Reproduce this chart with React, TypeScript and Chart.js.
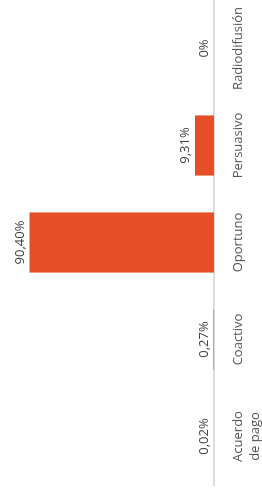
import React, { useEffect, useRef } from "react";
import { Chart, registerables } from "chart.js";
Chart.register(...registerables);

const categories: (string | string[])[] = [["Acuerdo", "de pago"], "Coactivo", "Oportuno", "Persuasivo", "Radiodifusión"];
const values = [0.02, 0.27, 90.4, 9.31, 0];
const valueLabels = ["0,02%", "0,27%", "90,40%", "9,31%", "0%"];

const FONT = "'Open Sans', 'Noto Sans', sans-serif";

const valueLabelPlugin = {
  id: "valueLabels",
  afterDatasetsDraw(chart: any) {
    const ctx = chart.ctx;
    const meta = chart.getDatasetMeta(0);
    ctx.save();
    ctx.font = `13px ${FONT}`;
    ctx.fillStyle = "#444444";
    ctx.textAlign = "center";
    ctx.textBaseline = "bottom";
    meta.data.forEach((el: any, i: number) => {
      ctx.fillText(valueLabels[i], el.x, el.y - 3);
    });
    ctx.restore();
  },
};

export default function App() {
  const ref = useRef<HTMLCanvasElement>(null);
  useEffect(() => {
    if (!ref.current) return;
    const chart = new Chart(ref.current, {
      type: "bar",
      data: {
        labels: categories,
        datasets: [
          {
            data: values,
            backgroundColor: "#E64E27",
            borderWidth: 0,
            barPercentage: 0.62,
            categoryPercentage: 1,
          },
        ],
      },
      options: {
        responsive: false,
        animation: false,
        devicePixelRatio: 1,
        layout: { padding: { left: 8, right: 0, top: 10, bottom: 0 } },
        plugins: { legend: { display: false }, tooltip: { enabled: false } },
        scales: {
          x: {
            grid: { display: false, drawTicks: false },
            border: { display: true, color: "#dddddd", width: 2 },
            ticks: {
              color: "#555555",
              font: { size: 13, family: FONT, lineHeight: 1.3 },
              padding: 16,
              maxRotation: 0,
              autoSkip: false,
            },
            afterFit(scale: any) {
              scale.height = 48;
              scale.paddingLeft = 0;
              scale.paddingRight = 0;
            },
          },
          y: { display: false, min: 0, max: 100 },
        },
      },
      plugins: [valueLabelPlugin],
    });
    return () => chart.destroy();
  }, []);
  return (
    <div
      style={{
        position: "fixed",
        left: 0,
        top: 0,
        width: 493,
        height: 262,
        transformOrigin: "0 0",
        transform: "translateY(493px) rotate(-90deg)",
        background: "#fff",
      }}
    >
      <canvas ref={ref} width={493} height={262} />
    </div>
  );
}
